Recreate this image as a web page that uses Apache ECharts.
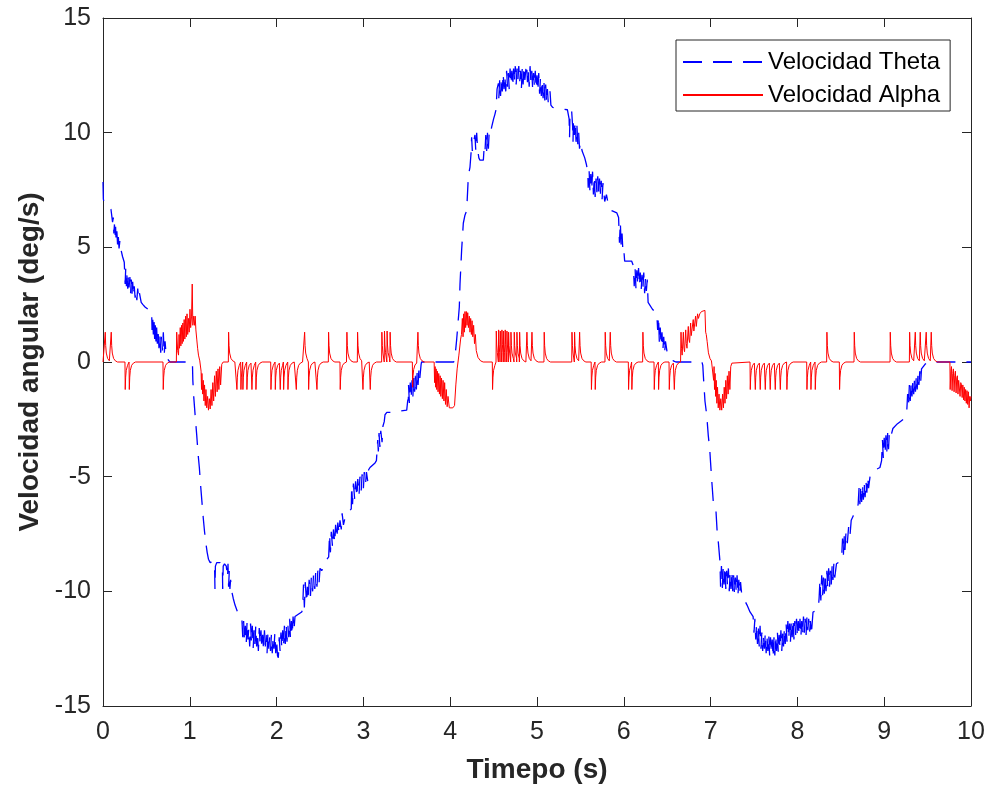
<!DOCTYPE html>
<html>
<head>
<meta charset="utf-8">
<script src="https://cdn.jsdelivr.net/npm/echarts@6/dist/echarts.min.js"></script>
<style>
html,body{margin:0;padding:0;background:#fff;}
#c{width:990px;height:792px;}
</style>
</head>
<body>
<div id="c"></div>
<script>
// ---------------- DATA ----------------
const xTicks = [0,1,2,3,4,5,6,7,8,9,10];
const yTicks = [-15,-10,-5,0,5,10,15];
const seriesNames = ['Velocidad Theta','Velocidad Alpha'];
const xTitle = 'Timepo (s)';
const yTitle = 'Velocidad angular (deg/s)';

// Theta angular velocity [time, deg/s]
const thetaDescent = [[0,7.85],[0.004,7.1],[0.01,7.0],[0.04,6.9],[0.07,6.8],[0.092,6.65],[0.1,6.6],[0.11,6.1],[0.119,6.3],[0.125,5.6],[0.132,6.0],[0.138,5.4],[0.145,5.9],[0.152,5.2],[0.16,5.7],[0.168,5.1],[0.176,5.5],[0.185,4.95],[0.195,5.3],[0.207,4.9],[0.225,4.6],[0.245,4.35],[0.255,3.4],[0.262,4.1],[0.27,3.3],[0.278,3.9],[0.285,3.2],[0.293,3.8],[0.3,3.25],[0.31,3.7],[0.318,3.0],[0.326,3.6],[0.334,2.95],[0.342,3.5],[0.35,2.9],[0.36,3.3],[0.37,2.8],[0.38,3.1],[0.39,2.7],[0.40,3.2],[0.41,2.75],[0.42,3.0],[0.44,2.6],[0.46,2.5],[0.484,2.4],[0.52,2.3],[0.56,2.25],[0.565,1.4],[0.572,2.0],[0.58,1.2],[0.588,1.8],[0.595,1.0],[0.603,1.6],[0.61,0.9],[0.618,1.5],[0.626,0.8],[0.635,1.3],[0.645,0.6],[0.655,1.2],[0.665,0.4],[0.675,1.1],[0.685,0.5],[0.695,1.3],[0.705,0.3],[0.715,0.9],[0.73,0.2],[0.75,0.1],[0.77,0],[1.03,0]];
const thetaTrough1 = [[1.032,-0.3],[1.035,-0.8],[1.045,-1.5],[1.055,-2.0],[1.065,-2.5],[1.08,-3.2],[1.095,-4.0],[1.11,-4.6],[1.125,-5.4],[1.14,-6.1],[1.155,-6.8],[1.17,-7.4],[1.185,-7.9],[1.2,-8.3],[1.215,-8.6],[1.235,-8.75],[1.25,-8.75],[1.27,-8.7],[1.285,-8.8],[1.29,-9.9],[1.295,-8.9],[1.31,-8.75],[1.33,-8.7],[1.35,-8.75],[1.375,-8.8],[1.379,-9.9],[1.385,-8.9],[1.40,-8.8],[1.42,-8.9],[1.435,-9.4],[1.44,-8.8],[1.447,-9.8],[1.455,-9.1],[1.462,-9.9],[1.47,-9.5],[1.483,-10.0],[1.5,-10.3],[1.521,-10.6],[1.55,-10.9],[1.598,-11.1],[1.6,-11.2],[1.61,-12.0],[1.62,-11.3],[1.63,-12.2],[1.64,-11.5],[1.65,-12.3],[1.66,-11.3],[1.67,-12.1],[1.68,-11.6],[1.69,-12.4],[1.70,-11.4],[1.71,-12.2],[1.72,-11.5],[1.73,-12.5],[1.74,-11.7],[1.75,-12.3],[1.76,-11.5],[1.77,-12.4],[1.78,-11.8],[1.79,-12.6],[1.80,-11.6],[1.81,-12.3],[1.82,-11.7],[1.83,-12.5],[1.84,-11.9],[1.85,-12.6],[1.86,-11.7],[1.87,-12.4],[1.88,-11.9],[1.89,-12.7],[1.90,-11.8],[1.91,-12.5],[1.92,-12.0],[1.93,-12.6],[1.94,-11.9],[1.95,-12.7],[1.96,-12.0],[1.97,-12.5],[1.98,-11.8],[1.99,-12.7],[2.0,-12.1],[2.01,-12.8],[2.02,-12.9],[2.03,-12.0],[2.04,-12.6],[2.05,-11.8],[2.06,-12.5],[2.07,-11.7],[2.08,-12.4],[2.09,-11.5],[2.10,-12.3],[2.11,-11.4],[2.12,-12.2],[2.13,-11.5],[2.14,-12.0],[2.15,-11.2],[2.16,-12.1],[2.17,-11.3],[2.18,-11.9],[2.19,-11.1],[2.2,-11.7],[2.212,-11.1],[2.25,-11.0],[2.289,-10.9]];
const thetaRise1 = [[2.3,-10.8],[2.31,-9.7],[2.32,-10.7],[2.33,-9.6],[2.345,-10.5],[2.355,-9.8],[2.365,-10.4],[2.375,-9.5],[2.39,-10.2],[2.40,-9.4],[2.415,-10.0],[2.425,-9.3],[2.44,-9.9],[2.45,-9.2],[2.465,-9.8],[2.475,-9.1],[2.49,-9.6],[2.50,-9.0],[2.52,-9.1],[2.558,-8.7],[2.58,-8.6],[2.6,-8.5],[2.61,-7.5],[2.62,-8.3],[2.63,-7.4],[2.645,-8.1],[2.655,-7.3],[2.67,-7.9],[2.68,-7.1],[2.695,-7.7],[2.705,-7.0],[2.72,-7.5],[2.73,-6.9],[2.745,-7.3],[2.755,-6.6],[2.77,-7.1],[2.788,-6.8],[2.82,-6.6],[2.84,-6.5],[2.86,-6.4],[2.865,-5.4],[2.875,-6.2],[2.885,-5.3],[2.9,-6.0],[2.91,-5.2],[2.925,-5.9],[2.935,-5.1],[2.95,-5.8],[2.96,-5.0],[2.975,-5.6],[2.985,-4.9],[3.0,-5.5],[3.01,-4.8],[3.025,-5.3],[3.035,-4.8],[3.05,-5.2],[3.06,-4.7],[3.076,-4.6],[3.134,-4.4],[3.15,-4.3],[3.165,-3.4],[3.172,-3.9],[3.18,-3.1],[3.19,-3.7],[3.2,-3.0],[3.215,-3.5],[3.225,-2.8],[3.24,-2.6],[3.249,-2.3],[3.27,-2.2],[3.326,-2.2],[3.4,-2.15],[3.499,-2.1],[3.51,-1.7],[3.518,-1.6],[3.52,-1.0],[3.53,-1.8],[3.54,-0.9],[3.55,-1.6],[3.56,-0.8],[3.57,-1.5],[3.58,-0.7],[3.59,-1.3],[3.60,-0.6],[3.61,-1.2],[3.62,-0.4],[3.63,-1.0],[3.64,-0.3],[3.65,-0.7],[3.665,-0.1],[3.67,0],[4.04,0]];
const thetaPeak = [[4.056,0.25],[4.075,1.0],[4.09,1.7],[4.105,2.4],[4.113,3.4],[4.132,4.9],[4.151,6.05],[4.17,6.4],[4.19,6.6],[4.209,8.1],[4.228,8.5],[4.24,9.1],[4.247,9.8],[4.255,9.2],[4.27,9.6],[4.285,9.9],[4.295,9.2],[4.305,10.0],[4.315,9.3],[4.33,8.9],[4.343,8.8],[4.382,8.8],[4.39,9.3],[4.4,9.1],[4.41,9.9],[4.42,9.2],[4.43,10.0],[4.44,9.3],[4.45,10.1],[4.465,10.0],[4.478,10.25],[4.5,10.6],[4.515,10.8],[4.528,11.0],[4.54,11.9],[4.555,12.15],[4.56,11.5],[4.57,12.3],[4.58,11.6],[4.59,12.4],[4.60,11.8],[4.61,12.6],[4.62,11.9],[4.63,12.5],[4.64,11.8],[4.65,12.7],[4.66,12.0],[4.67,12.6],[4.68,11.9],[4.69,12.8],[4.70,12.1],[4.71,12.7],[4.72,12.0],[4.73,12.8],[4.74,12.2],[4.75,12.9],[4.76,12.1],[4.77,12.8],[4.78,12.3],[4.79,12.9],[4.80,12.2],[4.81,12.7],[4.82,11.9],[4.83,12.8],[4.84,12.1],[4.85,12.9],[4.86,12.3],[4.87,12.7],[4.88,13.0],[4.89,12.2],[4.90,12.8],[4.91,12.0],[4.92,12.9],[4.93,12.2],[4.94,12.7],[4.95,11.9],[4.96,12.6],[4.97,12.0],[4.98,12.7],[4.99,11.9],[5.00,12.5],[5.01,11.8],[5.02,12.6],[5.03,11.7],[5.04,12.4],[5.05,11.6],[5.06,12.3],[5.07,11.5],[5.08,12.2],[5.09,11.4],[5.10,12.1],[5.11,11.3],[5.12,11.9],[5.13,11.3],[5.15,11.8],[5.16,11.2],[5.18,11.1],[5.35,11.0]];
const thetaFall = [[5.36,11.0],[5.37,10.6],[5.375,9.8],[5.38,10.8],[5.39,11.0],[5.40,10.9],[5.41,10.3],[5.415,9.6],[5.42,10.6],[5.43,9.9],[5.44,10.5],[5.45,9.6],[5.46,10.3],[5.47,9.5],[5.48,10.0],[5.49,9.3],[5.50,9.6],[5.52,9.2],[5.55,8.9],[5.57,8.6],[5.585,8.3],[5.59,7.6],[5.6,8.4],[5.61,7.4],[5.62,8.2],[5.63,7.5],[5.64,8.3],[5.65,7.3],[5.66,8.1],[5.67,7.2],[5.68,8.0],[5.69,7.4],[5.70,8.1],[5.71,7.2],[5.72,8.0],[5.73,7.3],[5.74,7.9],[5.75,7.1],[5.76,7.8],[5.78,7.0],[5.80,7.3],[5.82,6.9],[5.84,6.8],[5.86,6.6],[5.92,6.5],[5.94,6.3],[5.95,5.2],[5.96,6.1],[5.97,5.0],[5.98,5.6],[5.99,4.8],[6.0,4.9],[6.01,4.4],[6.09,4.4],[6.11,4.2],[6.12,3.3],[6.13,4.1],[6.14,3.2],[6.15,4.0],[6.16,3.4],[6.17,4.1],[6.18,3.3],[6.19,3.9],[6.2,3.1],[6.21,3.8],[6.22,3.2],[6.23,3.9],[6.24,3.0],[6.25,3.7],[6.26,3.1],[6.27,3.6],[6.28,2.6],[6.33,2.3],[6.38,2.1],[6.39,1.4],[6.40,2.0],[6.41,0.8],[6.42,1.5],[6.43,0.7],[6.44,1.3],[6.45,0.5],[6.46,1.1],[6.47,0.4],[6.48,0.9],[6.5,0.4],[6.53,0.2],[6.57,0.05],[6.6,0],[6.9,0]];
const thetaTrough2 = [[6.91,-0.15],[6.92,-0.8],[6.935,-1.7],[6.955,-2.3],[6.973,-3.2],[6.99,-3.8],[7.0,-4.4],[7.012,-5.1],[7.031,-6.1],[7.062,-6.5],[7.077,-7.5],[7.09,-7.9],[7.108,-8.7],[7.115,-9.8],[7.125,-8.9],[7.135,-9.9],[7.145,-9.0],[7.155,-9.7],[7.165,-8.9],[7.175,-9.9],[7.185,-9.1],[7.195,-9.8],[7.205,-9.0],[7.215,-10.0],[7.225,-9.2],[7.235,-9.9],[7.245,-9.1],[7.255,-10.0],[7.265,-9.3],[7.275,-10.1],[7.285,-9.4],[7.295,-10.0],[7.305,-9.3],[7.315,-10.2],[7.325,-9.5],[7.335,-10.1],[7.345,-9.6],[7.36,-10.2],[7.38,-10.3],[7.42,-10.6],[7.454,-10.9],[7.49,-11.1],[7.50,-11.8],[7.51,-11.2],[7.52,-12.1],[7.53,-11.4],[7.54,-12.3],[7.55,-11.6],[7.56,-12.4],[7.57,-11.5],[7.58,-12.5],[7.59,-11.8],[7.60,-12.6],[7.61,-11.9],[7.62,-12.5],[7.63,-11.8],[7.64,-12.7],[7.65,-12.0],[7.66,-12.6],[7.67,-11.9],[7.68,-12.8],[7.69,-12.0],[7.70,-12.7],[7.71,-12.1],[7.72,-12.9],[7.73,-12.0],[7.74,-12.8],[7.75,-11.9],[7.76,-12.6],[7.77,-11.8],[7.78,-12.7],[7.79,-11.9],[7.80,-12.5],[7.81,-11.7],[7.82,-12.6],[7.83,-11.8],[7.84,-12.4],[7.85,-11.6],[7.86,-12.3],[7.87,-11.4],[7.88,-12.2],[7.89,-11.3],[7.90,-12.1],[7.91,-11.4],[7.92,-12.2],[7.93,-11.3],[7.94,-12.0],[7.95,-11.2],[7.96,-12.1],[7.97,-11.3],[7.98,-11.9],[7.99,-11.2],[8.00,-12.0],[8.01,-11.3],[8.02,-11.9],[8.03,-11.2],[8.04,-12.0],[8.05,-11.3],[8.06,-11.9],[8.07,-11.1],[8.08,-11.8],[8.09,-11.2],[8.10,-11.9],[8.11,-11.1],[8.12,-11.7],[8.13,-11.2],[8.14,-11.8],[8.15,-11.3],[8.16,-11.9],[8.18,-10.9],[8.24,-10.8]];
const thetaRise2 = [[8.25,-10.3],[8.26,-9.5],[8.27,-10.4],[8.28,-9.3],[8.29,-10.2],[8.3,-9.4],[8.31,-10.1],[8.32,-9.2],[8.33,-10.0],[8.34,-9.1],[8.35,-9.9],[8.36,-9.0],[8.37,-9.8],[8.38,-9.1],[8.39,-9.7],[8.40,-8.9],[8.41,-9.5],[8.42,-8.8],[8.43,-9.4],[8.45,-8.8],[8.49,-8.7],[8.51,-8.5],[8.52,-7.7],[8.53,-8.4],[8.54,-7.6],[8.548,-8.2],[8.56,-7.4],[8.575,-7.9],[8.59,-7.2],[8.605,-7.6],[8.62,-6.9],[8.644,-6.7],[8.68,-6.5],[8.7,-6.2],[8.71,-5.5],[8.72,-6.2],[8.73,-5.4],[8.74,-6.1],[8.75,-5.3],[8.76,-6.0],[8.77,-5.3],[8.78,-5.9],[8.79,-5.2],[8.80,-5.7],[8.81,-5.0],[8.82,-5.5],[8.84,-4.9],[8.87,-4.8],[8.9,-4.7],[8.951,-4.6],[8.97,-4.3],[8.98,-3.4],[8.99,-4.2],[9.0,-3.3],[9.01,-4.0],[9.02,-3.2],[9.03,-3.9],[9.04,-3.1],[9.05,-3.8],[9.06,-3.0],[9.08,-3.2],[9.1,-2.9],[9.15,-2.7],[9.22,-2.5],[9.259,-2.2],[9.27,-1.4],[9.28,-1.9],[9.29,-1.0],[9.3,-1.7],[9.31,-0.9],[9.32,-1.5],[9.33,-0.8],[9.34,-1.4],[9.35,-0.7],[9.36,-1.3],[9.37,-0.6],[9.38,-1.2],[9.39,-0.5],[9.40,-1.0],[9.41,-0.4],[9.42,-0.9],[9.43,-0.3],[9.45,-0.35],[9.47,-0.1],[9.5,0],[10,0]];

// Alpha angular velocity: isolated spikes [time, peak deg/s]
const alphaSpikes = [[0.023,1.3],[0.092,1.3],[0.253,-1.2],[0.30,-1.2],[0.691,-1.2],[1.444,1.3],[1.54,-1.2],[1.586,-1.2],[1.609,-1.2],[1.655,-1.2],[1.713,-1.2],[1.759,-1.2],[1.932,-1.2],[1.982,-1.2],[2.039,-1.2],[2.078,-1.2],[2.128,-1.2],[2.224,-1.2],[2.32,1.3],[2.366,-1.2],[2.462,-1.2],[2.596,1.3],[2.73,-1.2],[2.807,1.3],[2.93,1.3],[2.992,-1.2],[3.076,-1.2],[3.21,1.3],[3.24,1.35],[3.27,1.35],[3.305,1.3],[3.564,-1.1],[3.625,1.3],[4.485,-1.2],[4.528,1.35],[4.555,1.4],[4.574,1.35],[4.593,1.4],[4.612,1.35],[4.631,1.4],[4.651,1.35],[4.67,1.3],[4.697,1.3],[4.735,1.3],[4.766,1.3],[4.797,1.3],[4.881,1.3],[4.939,1.3],[5.08,1.3],[5.40,1.3],[5.43,1.3],[5.488,1.3],[5.624,-1.2],[5.668,-1.2],[5.783,1.3],[5.841,1.3],[6.052,-1.2],[6.09,-1.2],[6.217,1.3],[6.348,-1.2],[6.398,-1.2],[6.521,-1.2],[6.579,-1.2],[7.454,-1.2],[7.512,-1.2],[7.569,-1.2],[7.627,-1.2],[7.684,-1.2],[7.742,-1.2],[7.8,-1.2],[7.876,-1.2],[8.107,-1.2],[8.153,-1.2],[8.203,-1.2],[8.337,1.3],[8.483,-1.2],[8.652,1.3],[9.067,1.3],[9.29,1.3],[9.355,1.3],[9.412,1.3],[9.481,1.3],[9.539,1.3]];
// spike profile: [time offset, fraction of peak]
const spikeProfile = [[0,0],[0.003,1],[0.008,0.55],[0.015,0.3],[0.03,0.12],[0.05,0.04],[0.075,0]];
// dense bursts of alpha [time, deg/s]
const alphaBurst1 = [[0.845,0],[0.849,1.3],[0.86,0.5],[0.87,0.3],[0.876,1.2],[0.882,0.6],[0.89,1.5],[0.897,0.7],[0.905,1.6],[0.912,0.8],[0.92,1.7],[0.927,0.9],[0.935,1.85],[0.943,1.0],[0.952,2.0],[0.96,1.1],[0.968,2.1],[0.976,1.2],[0.985,1.9],[0.993,1.3],[1.002,2.3],[1.01,1.5],[1.02,2.0],[1.028,3.4],[1.035,1.6],[1.045,2.0],[1.055,1.6],[1.062,2.0],[1.07,1.4],[1.08,1.0],[1.09,0.6],[1.1,0.3],[1.115,0.05]];
const alphaBurst2 = [[1.12,0],[1.13,-0.4],[1.135,-1.2],[1.14,-0.5],[1.148,-1.4],[1.155,-0.8],[1.163,-1.7],[1.17,-1.0],[1.178,-1.9],[1.186,-1.2],[1.195,-2.0],[1.205,-1.5],[1.215,-2.1],[1.225,-1.6],[1.235,-2.05],[1.245,-1.2],[1.255,-1.9],[1.265,-0.9],[1.275,-1.7],[1.285,-0.6],[1.295,-1.5],[1.305,-0.4],[1.315,-1.3],[1.325,-0.3],[1.335,-1.2],[1.345,-0.2],[1.355,-1.0],[1.368,-0.1],[1.385,0]];
const alphaBurst3 = [[3.815,0],[3.82,-0.9],[3.826,-0.2],[3.832,-1.1],[3.838,-0.3],[3.845,-1.2],[3.852,-0.4],[3.86,-1.3],[3.868,-0.5],[3.876,-1.4],[3.884,-0.6],[3.892,-1.5],[3.9,-0.7],[3.91,-1.6],[3.918,-0.8],[3.928,-1.7],[3.936,-0.9],[3.946,-1.85],[3.955,-1.2],[3.965,-1.95],[3.975,-1.5],[3.99,-2.0],[4.01,-2.0],[4.03,-2.0],[4.05,-1.9],[4.065,-1.0],[4.08,-0.3],[4.1,0.3],[4.12,1.0],[4.13,1.2],[4.14,1.9],[4.148,1.1],[4.155,2.1],[4.163,1.3],[4.17,2.2],[4.178,1.5],[4.186,2.2],[4.194,1.6],[4.202,2.15],[4.21,1.5],[4.22,2.0],[4.228,1.3],[4.236,1.9],[4.244,1.2],[4.252,1.8],[4.26,1.1],[4.27,1.6],[4.28,0.8],[4.29,1.2],[4.3,0.5],[4.32,0.2],[4.35,0.05],[4.38,0]];
const alphaBurst4 = [[6.655,0],[6.659,1.3],[6.665,0.6],[6.672,0.3],[6.686,1.3],[6.693,0.6],[6.70,0.45],[6.713,1.4],[6.72,0.8],[6.728,0.6],[6.743,1.55],[6.75,1.0],[6.758,0.85],[6.77,1.7],[6.777,1.15],[6.785,1.1],[6.8,1.85],[6.807,1.35],[6.815,1.35],[6.827,2.0],[6.835,1.55],[6.84,1.6],[6.85,2.1],[6.86,1.9],[6.875,2.1],[6.895,2.2],[6.915,2.25],[6.935,2.25],[6.94,2.2],[6.943,1.3],[6.95,1.2],[6.96,0.9],[6.975,0.4],[6.993,0.15],[7.01,0.05],[7.028,0]];
const alphaBurst5 = [[7.031,0],[7.035,-0.8],[7.04,-0.2],[7.045,-1.2],[7.052,-0.5],[7.058,-1.5],[7.065,-0.8],[7.072,-1.8],[7.08,-1.1],[7.088,-2.0],[7.097,-1.4],[7.107,-2.1],[7.117,-1.6],[7.128,-2.1],[7.138,-1.4],[7.148,-2.0],[7.157,-1.1],[7.166,-1.8],[7.175,-0.8],[7.184,-1.6],[7.193,-0.6],[7.202,-1.4],[7.212,-0.4],[7.222,-1.2],[7.232,-0.2],[7.245,-0.05],[7.26,0]];
const alphaBurst6 = [[9.757,0],[9.76,-1.2],[9.768,-0.4],[9.775,-0.2],[9.782,-1.25],[9.79,-0.5],[9.797,-0.3],[9.805,-1.3],[9.813,-0.6],[9.82,-0.4],[9.828,-1.35],[9.836,-0.7],[9.843,-0.6],[9.85,-1.4],[9.858,-0.8],[9.866,-0.8],[9.874,-1.5],[9.882,-0.9],[9.89,-1.0],[9.898,-1.55],[9.906,-1.0],[9.914,-1.65],[9.922,-1.1],[9.93,-1.7],[9.938,-1.2],[9.946,-1.8],[9.954,-1.25],[9.962,-1.85],[9.97,-1.3],[9.978,-2.0],[9.986,-1.5],[9.993,-1.7],[10,-1.5]];

// ---------------- BUILD ----------------
const thetaData = [].concat(thetaDescent, thetaTrough1, thetaRise1, thetaPeak, thetaFall, thetaTrough2, thetaRise2);

const events = [];
alphaSpikes.forEach(([t, a]) => events.push({t: t, pts: spikeProfile.map(([dt, f]) => [+(t + dt).toFixed(4), a * f])}));
[alphaBurst1, alphaBurst2, alphaBurst3, alphaBurst4, alphaBurst5, alphaBurst6].forEach(b => events.push({t: b[0][0], pts: b}));
events.sort((a, b) => a.t - b.t);
const alphaData = [[0, 0]];
events.forEach((ev, i) => {
  const next = i + 1 < events.length ? events[i + 1].t : 10.0001;
  ev.pts.forEach(p => { if (p[0] < next && p[0] <= 10) alphaData.push(p); });
});
if (alphaData[alphaData.length - 1][0] < 10) alphaData.push([10, 0]);

// ---------------- CHART ----------------
const FONT = "'Liberation Sans', Arial, Helvetica, sans-serif";
const AX = '#262626';
const chart = echarts.init(document.getElementById('c'), null, {renderer: 'canvas'});
const axisCommon = {
  type: 'value',
  axisLine: {show: true, onZero: false, lineStyle: {color: AX, width: 1}},
  axisTick: {show: true, inside: true, length: 9, lineStyle: {color: AX, width: 1}},
  splitLine: {show: false}
};
chart.setOption({
  animation: false,
  backgroundColor: '#ffffff',
  grid: {left: 103, right: 19, top: 18, bottom: 86, containLabel: false},
  xAxis: [
    Object.assign({}, axisCommon, {
      position: 'bottom', min: xTicks[0], max: xTicks[xTicks.length - 1], interval: xTicks[1] - xTicks[0],
      axisLabel: {show: true, fontSize: 25, color: AX, fontFamily: FONT, margin: 14},
      name: xTitle, nameLocation: 'middle', nameGap: 50,
      nameTextStyle: {fontSize: 28, fontWeight: 'bold', color: AX, fontFamily: FONT}
    }),
    Object.assign({}, axisCommon, {
      position: 'top', min: xTicks[0], max: xTicks[xTicks.length - 1], interval: xTicks[1] - xTicks[0],
      axisLabel: {show: false}
    })
  ],
  yAxis: [
    Object.assign({}, axisCommon, {
      position: 'left', min: yTicks[0], max: yTicks[yTicks.length - 1], interval: yTicks[1] - yTicks[0],
      axisLabel: {show: true, fontSize: 25, color: AX, fontFamily: FONT, margin: 12},
      name: yTitle, nameLocation: 'middle', nameGap: 56,
      nameTextStyle: {fontSize: 28, fontWeight: 'bold', color: AX, fontFamily: FONT}
    }),
    Object.assign({}, axisCommon, {
      position: 'right', min: yTicks[0], max: yTicks[yTicks.length - 1], interval: yTicks[1] - yTicks[0],
      axisLabel: {show: false}
    })
  ],
  legend: {
    show: true, orient: 'vertical', left: 676, top: 40,
    padding: [10, 10, 4, 6], itemGap: 9, itemWidth: 80, itemHeight: 14,
    backgroundColor: '#ffffff', borderColor: AX, borderWidth: 1, borderRadius: 0,
    itemStyle: {opacity: 0},
    lineStyle: {opacity: 1},
    textStyle: {fontSize: 24, color: '#000000', fontFamily: FONT, lineHeight: 24},
    data: seriesNames
  },
  series: [
    {
      name: seriesNames[0], type: 'line', xAxisIndex: 0, yAxisIndex: 0,
      data: thetaData, symbol: 'none', showSymbol: false, smooth: false,
      lineStyle: {color: '#0000ff', width: 1.3, type: [19, 11]},
      itemStyle: {color: '#0000ff'}, z: 2
    },
    {
      name: seriesNames[1], type: 'line', xAxisIndex: 0, yAxisIndex: 0,
      data: alphaData, symbol: 'none', showSymbol: false, smooth: false,
      lineStyle: {color: '#ff0000', width: 1, type: 'solid'},
      itemStyle: {color: '#ff0000'}, z: 3
    }
  ]
});
</script>
</body>
</html>
